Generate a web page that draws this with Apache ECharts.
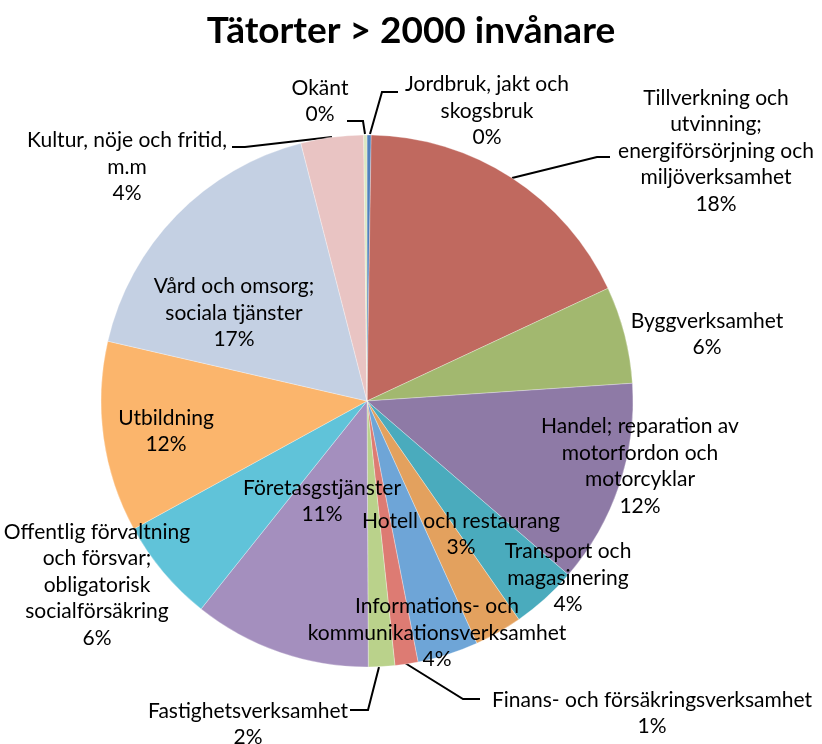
<!DOCTYPE html>
<html>
<head>
<meta charset="utf-8">
<script src="https://cdn.jsdelivr.net/npm/echarts@6/dist/echarts.min.js"></script>
<style>
    html, body { margin: 0; padding: 0; background: #fff; }
    #pie { width: 822px; height: 744px; }
</style>
</head>
<body>
<div id="pie"></div>
<script>
    // branscher, medurs från kl 12
    const names = [
        'Jordbruk, jakt och\nskogsbruk',
        'Tillverkning och\nutvinning;\nenergiförsörjning och\nmiljöverksamhet',
        'Byggverksamhet',
        'Handel; reparation av\nmotorfordon och\nmotorcyklar',
        'Transport och\nmagasinering',
        'Hotell och restaurang',
        'Informations- och\nkommunikationsverksamhet',
        'Finans- och försäkringsverksamhet',
        'Fastighetsverksamhet',
        'Företasgstjänster',
        'Offentlig förvaltning\noch försvar;\nobligatorisk\nsocialförsäkring',
        'Utbildning',
        'Vård och omsorg;\nsociala tjänster',
        'Kultur, nöje och fritid,\nm.m',
        'Okänt'
    ];
    // andel i procent
    const shares = [0.25, 17.8, 5.9, 12.4, 4.0, 2.9, 3.7, 1.4, 1.6, 10.8, 6.3, 11.6, 17.4, 3.8, 0.2];
    const colors = ['#4f81bd', '#c0695f', '#a2b86f', '#8e7aa6', '#4aabbd', '#e3a15e', '#6ea5d7', '#dd7b73',
        '#bad28b', '#a48fbe', '#60c3d9', '#fbb56c', '#c4d0e3', '#e9c4c3', '#dbe7c2'];

    // label placement (center of text block) and leader lines
    const spots = [[487, 111], [716, 151], [707, 334], [640, 466], [568, 578], [461, 534], [437, 633],
        [652, 713], [248, 724], [322, 501], [97, 585], [166, 431], [234, 313], [127, 167], [320, 101]];
    const lines = {
        0: [[370, 134], [382, 92], [398, 92]],
        1: [[512, 178], [597, 157], [610, 157]],
        7: [[405, 663], [463, 699], [480, 699]],
        8: [[379, 667], [368, 710], [350, 710]],
        13: [[332, 137], [245, 147], [232, 147]],
        14: [[365, 134], [363, 121], [347, 121]]
    };

    let myChart = echarts.init(document.getElementById('pie'));
    let option = {
        animation: false,
        title: {
            text: 'Tätorter > 2000 invånare',
            left: 'center',
            top: 8,
            textStyle: {
                fontFamily: 'Lato',
                fontWeight: 'bold',
                fontSize: 37,
                color: '#000'
            }
        },
        series: [
            {
                type: 'pie',
                center: [367, 401],
                radius: 266,
                startAngle: 90,
                clockwise: true,
                avoidLabelOverlap: false,
                emphasis: { disabled: true },
                itemStyle: { borderColor: 'rgba(255,255,255,0.6)', borderWidth: 0.5 },
                label: {
                    show: true,
                    position: 'outside',
                    fontFamily: 'Lato',
                    fontSize: 21,
                    lineHeight: 26.5,
                    color: '#000',
                    align: 'center',
                    formatter: p => p.name + '\n' + Math.round(p.value) + '%'
                },
                labelLine: { show: false, lineStyle: { color: '#000', width: 2 } },
                labelLayout: params => {
                    const i = params.dataIndex;
                    let out = {
                        x: spots[i][0],
                        y: spots[i][1],
                        align: 'center',
                        verticalAlign: 'middle'
                    };
                    if (lines[i]) out.labelLinePoints = lines[i];
                    return out;
                },
                data: names.map((n, i) => ({
                    name: n,
                    value: shares[i],
                    itemStyle: { color: colors[i] },
                    labelLine: { show: !!lines[i] }
                }))
            }
        ]
    };
    myChart.setOption(option);
</script>
</body>
</html>
